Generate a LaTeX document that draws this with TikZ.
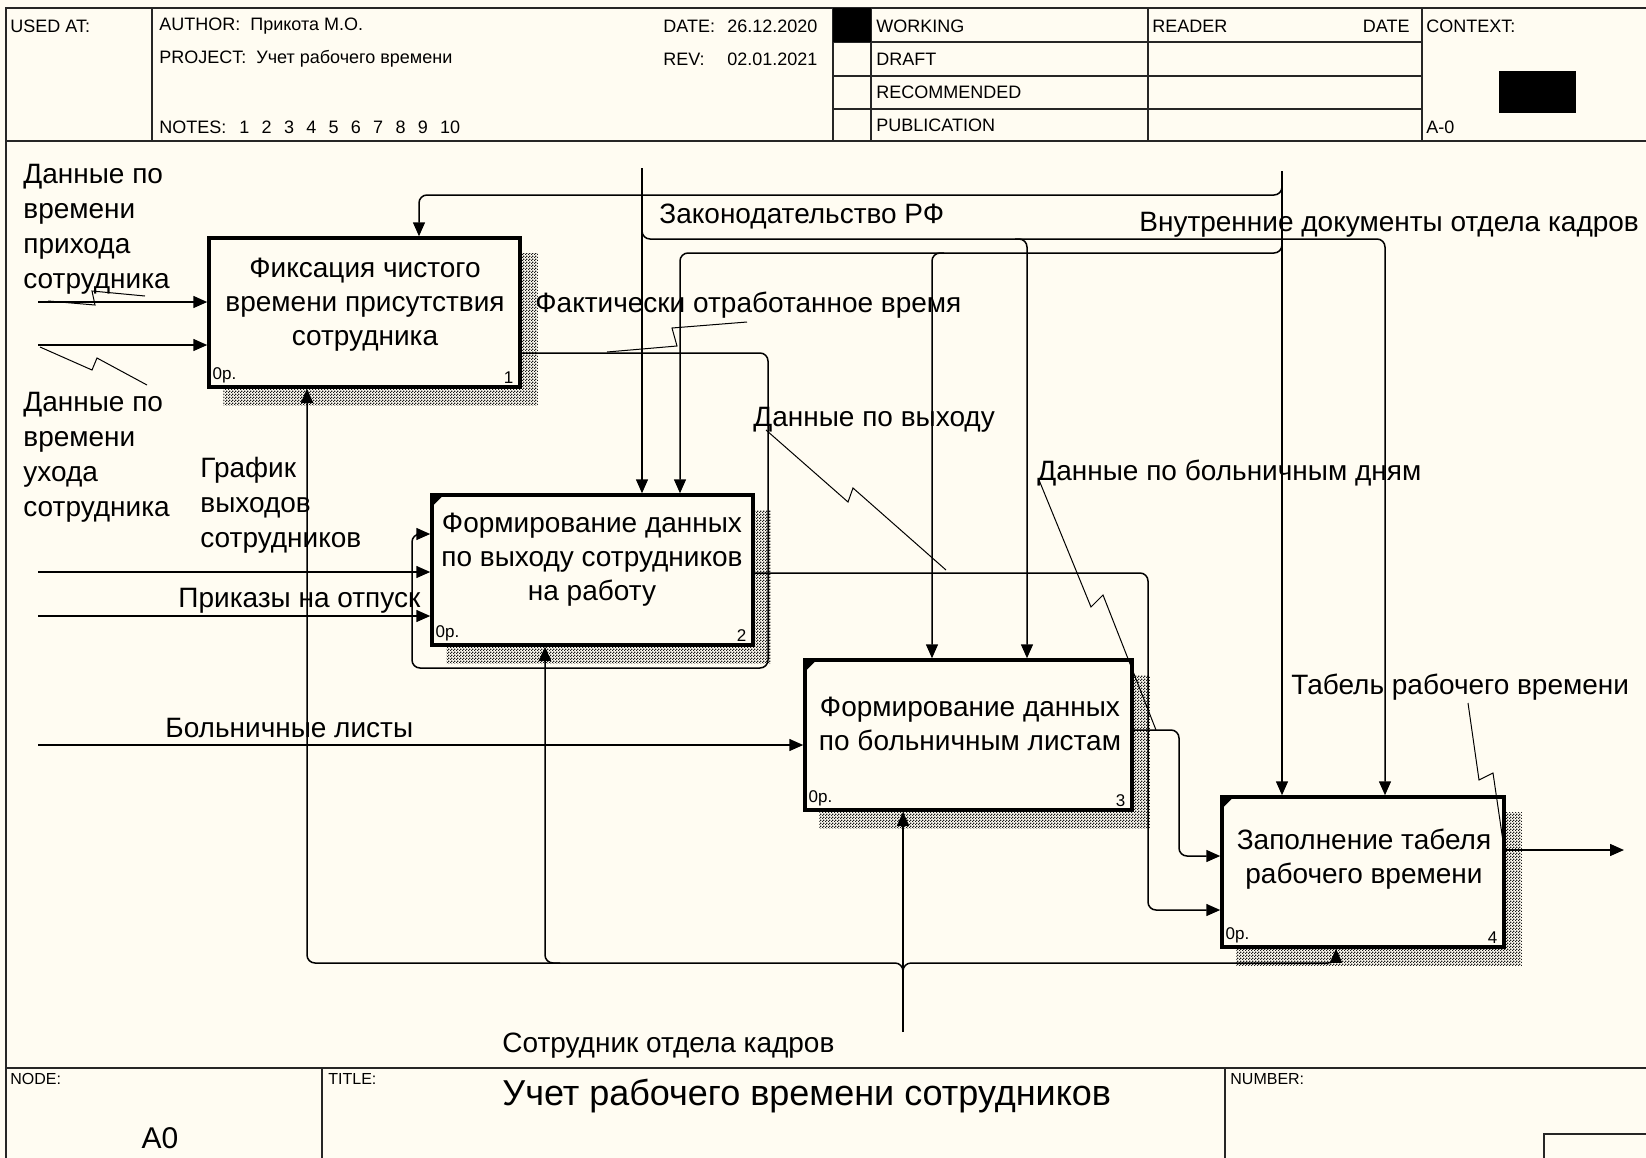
\documentclass[tikz,border=0pt]{standalone}
\usepackage{fontspec}
\setmainfont{Liberation Sans}
\usetikzlibrary{arrows.meta,patterns,calc}
\definecolor{bgc}{RGB}{255,252,242}
\pgfdeclarepatternformonly{finecheck}{\pgfpointorigin}{\pgfpoint{1.5pt}{1.5pt}}{\pgfpoint{1.5pt}{1.5pt}}{%
  \pgfpathrectangle{\pgfpointorigin}{\pgfpoint{0.75pt}{0.75pt}}%
  \pgfpathrectangle{\pgfpoint{0.75pt}{0.75pt}}{\pgfpoint{0.75pt}{0.75pt}}%
  \pgfusepath{fill}}
\pgfdeclarelayer{background}
\pgfsetlayers{background,main}
\begin{document}
\begin{tikzpicture}[x=0.5pt,y=-0.5pt,
  frame/.style={line width=1pt, draw=black!85},
  proc/.style={draw, line width=1.75pt, fill=bgc, inner sep=0pt},
  arr/.style={-{Triangle[length=7pt,width=6pt]}, line width=0.75pt},
  rc/.style={rounded corners=4pt},
  squig/.style={line width=0.5pt},
  lbl/.style={font=\fontsize{14}{17.5}\selectfont, inner sep=0pt, anchor=west, align=left},
  boxtxt/.style={font=\fontsize{14}{17}\selectfont, inner sep=0pt, align=center},
  hdr/.style={font=\fontsize{9}{10}\selectfont, inner sep=0pt, anchor=west},
  ftr/.style={font=\fontsize{8}{9}\selectfont, inner sep=0pt, anchor=west},
  small/.style={font=\fontsize{8.5}{10}\selectfont, inner sep=0pt}]
\begin{pgfonlayer}{background}
\fill[bgc] (0,0) rectangle (1646,1158);
\end{pgfonlayer}
\useasboundingbox (0,0) rectangle (1646,1158);

% ---------- frame ----------
\draw[frame] (6,1158) -- (6,8) -- (1646,8);
\draw[frame] (6,141) -- (1646,141);
\draw[frame] (6,1068) -- (1646,1068);
\foreach \xx in {152,833,871,1148,1422} \draw[frame] (\xx,8) -- (\xx,141);
\foreach \yy in {42,76,109} \draw[frame] (833,\yy) -- (1422,\yy);
\fill (833,8) rectangle (871,42);
\fill (1499,71) rectangle (1576,113);
\draw[frame] (322,1068) -- (322,1158);
\draw[frame] (1225,1068) -- (1225,1158);
\draw[frame] (1646,1134) -- (1544,1134) -- (1544,1158);

% ---------- header texts ----------
\node[hdr] (h1) at (10,26) {USED AT:};
\node[hdr] (h2) at (159,26) {AUTHOR:\ \ Прикота М.О.};
\node[hdr] (h3) at (159,59) {PROJECT:\ \ Учет рабочего времени};
\node[hdr] (h4) at (159,127) {NOTES:};
\foreach \n [count=\i from 0] in {1,2,3,4,5,6,7,8,9,10}
  \node[hdr] (n\i) at (239+22.3*\i,127) {\n};
\node[hdr] (h5) at (663,26) {DATE:};
\node[hdr] (h6) at (727,26) {26.12.2020};
\node[hdr] (h7) at (663,59) {REV:};
\node[hdr] (h8) at (727,59) {02.01.2021};
\node[hdr] (s1) at (876,26) {WORKING};
\node[hdr] (s2) at (876,59) {DRAFT};
\node[hdr] (s3) at (876,92) {RECOMMENDED};
\node[hdr] (s4) at (876,125) {PUBLICATION};
\node[hdr] (s5) at (1152,26) {READER};
\node[hdr, anchor=east] (s6) at (1410,26) {DATE};
\node[hdr] (s7) at (1426,26) {CONTEXT:};
\node[hdr] (s8) at (1426,127) {A-0};

% ---------- footer texts ----------
\node[ftr] (f1) at (10,1079) {NODE:};
\node[ftr] (f2) at (328,1079) {TITLE:};
\node[ftr] (f3) at (1230,1079) {NUMBER:};
\node[font=\fontsize{15}{18}\selectfont, inner sep=0pt] (f4) at (160,1138) {A0};
\node[font=\fontsize{18}{21}\selectfont, inner sep=0pt, anchor=west] (f5) at (502,1096) {Учет рабочего времени сотрудников};

% ---------- boxes ----------
\node[proc, minimum width=155.5pt, minimum height=74.5pt] (b1) at (364.5,312.5) {};
\node[proc, minimum width=160.5pt, minimum height=75pt] (b2) at (592.5,570) {};
\node[proc, minimum width=163.5pt, minimum height=75pt] (b3) at (968.5,735) {};
\node[proc, minimum width=141pt, minimum height=75pt] (b4) at (1363,872) {};
\begin{pgfonlayer}{background}
\foreach \b in {b1,b2,b3,b4}
  \fill[pattern=finecheck, pattern color=black!90] ($(\b.north west)+(16,17)$) rectangle ($(\b.south east)+(16,17)$);
\end{pgfonlayer}
\foreach \b in {b2,b3,b4}
  \fill ($(\b.north west)+(1,1)$) -- ++(13,0) -- ++(-13,13) -- cycle;

\node[boxtxt] (t1) at (365,305) {Фиксация чистого\\времени присутствия\\сотрудника};
\node[boxtxt] (t2) at (592,560) {Формирование данных\\по выходу сотрудников\\на работу};
\node[boxtxt] (t3) at (970,724) {Формирование данных\\по больничным листам};
\node[boxtxt] (t4) at (1364,859) {Заполнение табеля\\рабочего времени};
\foreach \b/\k in {b1/1,b2/2,b3/3,b4/4}{
  \node[small, anchor=south west] (op\k) at ($(\b.south west)+(5,-5)$) {0p.};
  \node[small, anchor=south east] (nr\k) at ($(\b.south east)+(-8,-5)$) {\k};
}

% ---------- arrow labels ----------
\node[lbl] (l1) at (23,229) {Данные по\\времени\\прихода\\сотрудника};
\node[lbl] (l2) at (23,457) {Данные по\\времени\\ухода\\сотрудника};
\node[lbl] (l3) at (200,505) {График\\выходов\\сотрудников};
\node[lbl] (l4) at (178,601) {Приказы на отпуск};
\node[lbl] (l5) at (165,728) {Больничные листы};
\node[lbl] (l6) at (659,217) {Законодательство РФ};
\node[lbl] (l7) at (1139,225) {Внутренние документы отдела кадров};
\node[lbl] (l8) at (535,305) {Фактически отработанное время};
\node[lbl] (l9) at (753,420) {Данные по выходу};
\node[lbl] (l10) at (1037,473) {Данные по больничным дням};
\node[lbl] (l11) at (1291,687) {Табель рабочего времени};
\node[lbl] (l12) at (502,1046) {Сотрудник отдела кадров};

% ---------- connectors ----------
\coordinate (i1) at (38,302);
\coordinate (i2) at (38,345);
\coordinate (i3) at (38,572);
\coordinate (i4) at (38,616);
\coordinate (i5) at (38,745);
\coordinate (c1) at (642,168);
\coordinate (c2) at (1282,171);
\coordinate (o4) at (1624,850);
\coordinate (m0) at (903,1032);

\draw[arr] (i1) -- (i1 -| b1.west);
\draw[arr] (i2) -- (i2 -| b1.west);
\draw[arr] (i3) -- (i3 -| b2.west);
\draw[arr] (i4) -- (i4 -| b2.west);
\draw[arr] (i5) -- (i5 -| b3.west);

% Законодательство РФ
\draw[arr] (c1) -- (c1 |- b2.north);
\draw[arr, rc] (642,222) |- (1385,239) -- (1385,239 |- b4.north);
\draw[arr, rc] (1015,239) -| (1027,239 |- b3.north);

% Внутренние документы
\draw[arr] (c2) -- (c2 |- b4.north);
\draw[arr, rc] (1282,180) |- (419,195) -- (419,195 |- b1.north);
\draw[arr, rc] (1282,238) |- (680,253) -- (680,253 |- b2.north);
\draw[arr, rc] (944,253) -| (932,253 |- b3.north);

% Фактически отработанное время
\draw[arr, rc] (b1.east |- 0,353) -- (768,353) -- (768,668) -- (412,668) -- (412,534) -- (b2.west |- 0,534);
% Данные по выходу
\draw[arr, rc] (b2.east |- 0,573) -- (1148,573) -- (1148,910) -- (b4.west |- 0,910);
% Данные по больничным дням
\draw[arr, rc] (b3.east |- 0,730) -- (1179,730) -- (1179,856) -- (b4.west |- 0,856);
% Табель
\draw[arr] (b4.east |- o4) -- (o4);

% Сотрудник отдела кадров
\draw[arr] (m0) -- (m0 |- b3.south);
\draw[arr, rc] (903,980) |- (307,963) -- (307,963 |- b1.south);
\draw[arr, rc] (560,963) -| (545,963 |- b2.south);
\draw[arr, rc] (903,980) |- (1336,963) -- (1336,963 |- b4.south);

% ---------- squiggles ----------
\draw[squig] (145,296) -- (92,291) -- (95,305) -- (48,301);
\draw[squig] (40,347) -- (92,370) -- (97,358) -- (147,385);
\draw[squig] (747,322) -- (672,328) -- (677,346) -- (607,352);
\draw[squig] (766,430) -- (848,502) -- (853,488) -- (946,570);
\draw[squig] (1039,480) -- (1091,607) -- (1103,595) -- (1156,730);
\draw[squig] (1468,703) -- (1479,780) -- (1493,773) -- (1504,848);
\end{tikzpicture}
\end{document}
